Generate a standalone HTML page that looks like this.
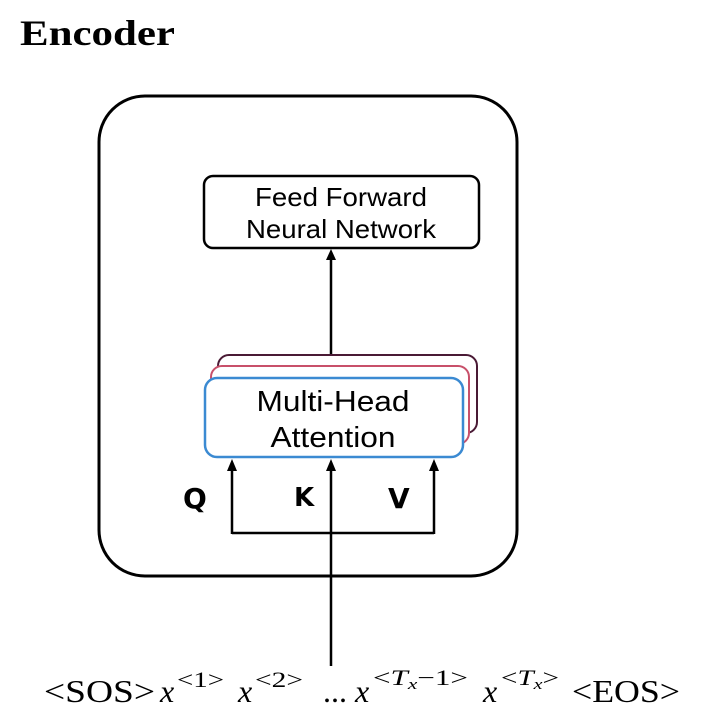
<!DOCTYPE html>
<html><head><meta charset="utf-8"><style>
html,body{margin:0;padding:0;background:#fff;}
svg{display:block;}
</style></head><body>
<svg width="710" height="722" viewBox="0 0 710 722" xmlns="http://www.w3.org/2000/svg">
<text x="20" y="45" font-family="Liberation Serif, serif" font-weight="bold" font-size="36" textLength="155" lengthAdjust="spacingAndGlyphs">Encoder</text>
<rect x="99" y="96" width="418" height="480" rx="46" fill="none" stroke="#000" stroke-width="3"/>
<rect x="204" y="176" width="275" height="72" rx="9" fill="#fff" stroke="#000" stroke-width="2.5"/>
<text x="341" y="206" text-anchor="middle" font-family="Liberation Sans, sans-serif" font-size="26" textLength="172" lengthAdjust="spacingAndGlyphs">Feed Forward</text>
<text x="341" y="238" text-anchor="middle" font-family="Liberation Sans, sans-serif" font-size="26" textLength="190" lengthAdjust="spacingAndGlyphs">Neural Network</text>
<line x1="331" y1="355" x2="331" y2="258" stroke="#000" stroke-width="2.5"/>
<polygon points="326,260 331,249 336,260" fill="#000"/>
<rect x="218" y="355" width="259" height="78" rx="11" fill="#fff" stroke="#4a1a35" stroke-width="2"/>
<rect x="211" y="366" width="258" height="78" rx="11" fill="#fff" stroke="#c8506a" stroke-width="2"/>
<rect x="205" y="378" width="258" height="79" rx="12" fill="#fff" stroke="#3b8ad2" stroke-width="2.5"/>
<text x="333" y="411" text-anchor="middle" font-family="Liberation Sans, sans-serif" font-size="29" textLength="153" lengthAdjust="spacingAndGlyphs">Multi-Head</text>
<text x="333" y="447" text-anchor="middle" font-family="Liberation Sans, sans-serif" font-size="29" textLength="125" lengthAdjust="spacingAndGlyphs">Attention</text>
<path d="M232,533 L434,533" stroke="#000" stroke-width="2.5" fill="none"/>
<line x1="232" y1="534" x2="232" y2="468" stroke="#000" stroke-width="2.5"/>
<line x1="434" y1="534" x2="434" y2="468" stroke="#000" stroke-width="2.5"/>
<line x1="331" y1="666" x2="331" y2="468" stroke="#000" stroke-width="2.5"/>
<polygon points="227,471 232,459 237,471" fill="#000"/>
<polygon points="429,471 434,459 439,471" fill="#000"/>
<polygon points="326,471 331,459 336,471" fill="#000"/>
<text x="183" y="508" font-family="DejaVu Sans, sans-serif" font-weight="bold" font-size="28">Q</text>
<text x="294" y="506" font-family="DejaVu Sans, sans-serif" font-weight="bold" font-size="26">K</text>
<text x="388" y="508" font-family="DejaVu Sans, sans-serif" font-weight="bold" font-size="28">V</text>
<g font-family="Liberation Serif, serif" font-size="32">
<text x="44" y="702" textLength="111" lengthAdjust="spacingAndGlyphs">&lt;SOS&gt;</text>
<text x="160" y="702" font-style="italic">x</text><text x="177" y="687" font-size="22" textLength="47" lengthAdjust="spacingAndGlyphs">&lt;1&gt;</text>
<text x="238" y="702" font-style="italic">x</text><text x="255" y="687" font-size="22" textLength="48" lengthAdjust="spacingAndGlyphs">&lt;2&gt;</text>
<text x="323" y="702">...</text>
<text x="355" y="702" font-style="italic">x</text><text x="373" y="685" font-size="22" textLength="95" lengthAdjust="spacingAndGlyphs">&lt;<tspan font-style="italic">T</tspan><tspan font-size="15" font-style="italic" dy="4">x</tspan><tspan dy="-4">−1&gt;</tspan></text>
<text x="483" y="702" font-style="italic">x</text><text x="501" y="685" font-size="22" textLength="58" lengthAdjust="spacingAndGlyphs">&lt;<tspan font-style="italic">T</tspan><tspan font-size="15" font-style="italic" dy="4">x</tspan><tspan dy="-4">&gt;</tspan></text>
<text x="572" y="702" textLength="108" lengthAdjust="spacingAndGlyphs">&lt;EOS&gt;</text>
</g>
</svg>
</body></html>
